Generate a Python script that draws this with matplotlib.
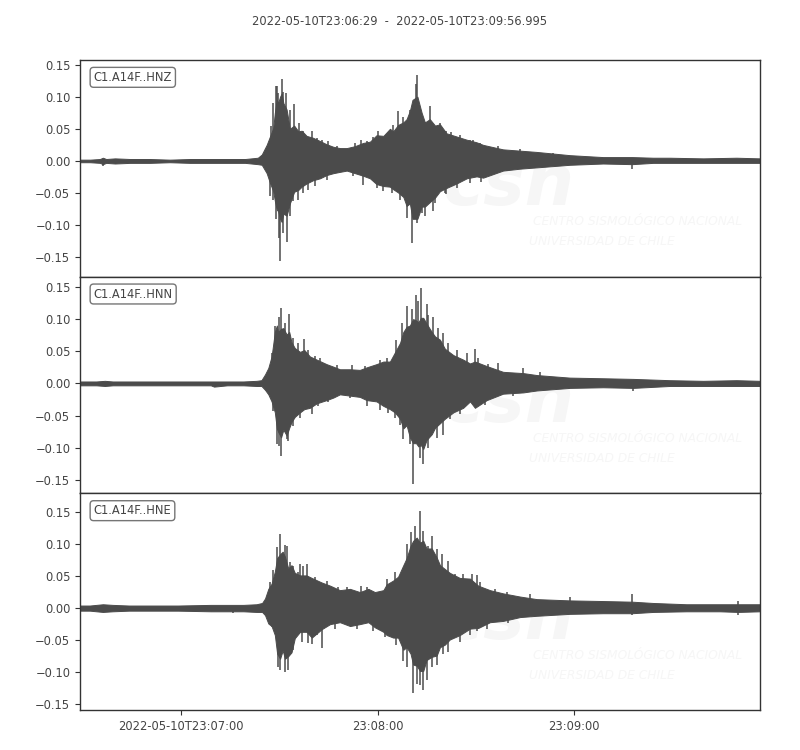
import numpy as np
import matplotlib.pyplot as plt

# seconds after 2022-05-10T23:06:29
title = "2022-05-10T23:06:29  -  2022-05-10T23:09:56.995"
trace_ids = ["C1.A14F..HNZ", "C1.A14F..HNN", "C1.A14F..HNE"]
tick_secs = [31, 91, 151]
tick_labels = ["2022-05-10T23:07:00", "23:08:00", "23:09:00"]
duration = 208.0

# --- HNZ envelope ---
t_z = [0, 3.1, 6.1, 7.0, 8.0, 10.7, 15.3, 21.4, 27.5, 33.6, 39.8, 45.9, 50.5, 54.4, 55.6,
       57.1, 58.1, 59.1, 59.6, 60.2, 60.6, 61.2, 61.7, 62.2, 63.2, 64.2, 65.5, 66.8, 67.8, 69.3,
       71.3, 73.4, 75.4, 77.5, 79.5, 81.6, 84.1, 86.6, 88.7, 90.7, 92.8, 94.8, 95.8, 97.3, 98.9,
       99.9, 100.9, 101.7, 103.2, 104.5, 105.5, 107.0, 108.6, 110.1, 112.1, 115.2, 118.3, 121.3, 123.3, 129.4,
       134.6, 139.7, 149.8, 160.0, 168.9, 175.3, 180.4, 190.6, 200.8, 208.0]
up_z = [0.002, 0.002, 0.003, 0.005, 0.003, 0.004, 0.003, 0.003, 0.002, 0.003, 0.003, 0.003, 0.003, 0.005, 0.010,
        0.025, 0.038, 0.051, 0.075, 0.095, 0.090, 0.100, 0.105, 0.090, 0.080, 0.050, 0.055, 0.046, 0.047, 0.039,
        0.036, 0.031, 0.026, 0.022, 0.020, 0.020, 0.023, 0.028, 0.030, 0.040, 0.039, 0.050, 0.046, 0.056, 0.060,
        0.065, 0.078, 0.095, 0.100, 0.075, 0.060, 0.065, 0.055, 0.057, 0.043, 0.038, 0.033, 0.029, 0.025, 0.018,
        0.016, 0.014, 0.009, 0.006, 0.006, 0.005, 0.005, 0.004, 0.005, 0.004]
lo_z = [-0.002, -0.002, -0.003, -0.005, -0.003, -0.004, -0.003, -0.003, -0.002, -0.003, -0.003, -0.003, -0.003, -0.005, -0.006,
        -0.019, -0.034, -0.047, -0.062, -0.076, -0.078, -0.090, -0.095, -0.082, -0.085, -0.066, -0.048, -0.045, -0.040, -0.035,
        -0.030, -0.027, -0.022, -0.019, -0.017, -0.015, -0.019, -0.023, -0.027, -0.036, -0.039, -0.040, -0.044, -0.049, -0.056,
        -0.070, -0.066, -0.090, -0.090, -0.071, -0.071, -0.064, -0.057, -0.047, -0.042, -0.035, -0.027, -0.024, -0.026, -0.015,
        -0.012, -0.010, -0.006, -0.004, -0.005, -0.003, -0.003, -0.003, -0.003, -0.003]
spk_t_z = [60.3, 61.7, 63.0, 65.5, 97.3, 102.7, 103.2, 107.0,
           58.1, 60.9, 61.2, 63.2, 99.9, 101.7, 104.5, 108.6, 112.1, 168.9, 7.0,
           58.4, 59.1, 60.0, 60.6, 62.2, 64.2, 67.1, 68.2, 70.9, 72.4, 73.9, 75.9, 78.5, 84.1, 86.1,
           87.7, 89.7, 91.2, 93.8, 95.6, 98.9, 100.9, 105.0, 110.1, 112.1, 113.6, 116.2, 119.3,
           120.3, 122.3, 127.9, 134.6, 144.7,
           58.9, 60.0, 62.2, 64.2, 65.2, 66.8, 68.2, 69.8, 71.9, 75.4, 83.6, 86.6, 90.7, 92.8,
           95.3, 97.9, 103.0, 105.5, 108.1, 111.6, 115.2, 119.3, 122.8, 125.4, 130.5]
spk_v_z = [0.116, 0.127, 0.106, 0.088, 0.077, 0.120, 0.134, 0.085,
           -0.055, -0.120, -0.156, -0.126, -0.089, -0.127, -0.081, -0.065, -0.052, -0.012, -0.008,
           0.054, 0.090, 0.116, 0.106, 0.108, 0.080, 0.059, 0.046, 0.046, 0.036, 0.033, 0.031, 0.024, 0.028, 0.033,
           0.031, 0.037, 0.046, 0.041, 0.056, 0.069, 0.080, 0.062, 0.059, 0.046, 0.045, 0.041, 0.033,
           0.033, 0.028, 0.023, 0.019, 0.012,
           -0.060, -0.091, -0.112, -0.086, -0.063, -0.060, -0.050, -0.045, -0.039, -0.029, -0.024, -0.037, -0.042, -0.047,
           -0.050, -0.060, -0.096, -0.086, -0.078, -0.050, -0.042, -0.034, -0.033, -0.021, -0.016]

# --- HNN ---
t_n = [0, 5, 7.6, 10, 20, 30, 40, 41.0, 45, 50, 54, 55.5, 56.6, 57.6, 58.6,
       59.6, 60.2, 60.6, 61.5, 62.2, 63.2, 64.0, 64.7, 65.7, 67.3, 68.6, 70.3, 72.4, 75.4, 77.5,
       79.5, 82.6, 85.6, 87.7, 90.7, 92.8, 94.8, 96.3, 97.9, 98.9, 99.9, 100.9, 101.9, 102.8, 103.5,
       104.3, 105.0, 106.0, 107.6, 108.6, 110.1, 111.6, 114.2, 117.2, 119.3, 120.8, 124.4, 129.4, 135.6, 139.7,
       149.8, 160.0, 169.2, 180.4, 190.6, 200.8, 208.0]
up_n = [0.003, 0.003, 0.004, 0.003, 0.003, 0.003, 0.003, 0.003, 0.003, 0.003, 0.004, 0.005, 0.014, 0.024, 0.042,
        0.080, 0.090, 0.080, 0.085, 0.086, 0.076, 0.080, 0.064, 0.055, 0.049, 0.052, 0.042, 0.037, 0.030, 0.026,
        0.022, 0.022, 0.021, 0.025, 0.030, 0.034, 0.034, 0.048, 0.063, 0.080, 0.088, 0.090, 0.100, 0.098, 0.095,
        0.102, 0.102, 0.093, 0.080, 0.073, 0.068, 0.054, 0.044, 0.037, 0.031, 0.034, 0.027, 0.018, 0.016, 0.013,
        0.009, 0.008, 0.007, 0.005, 0.004, 0.005, 0.004]
lo_n = [-0.003, -0.003, -0.004, -0.003, -0.003, -0.003, -0.003, -0.005, -0.003, -0.003, -0.004, -0.004, -0.010, -0.017, -0.028,
        -0.045, -0.070, -0.075, -0.084, -0.072, -0.081, -0.069, -0.060, -0.052, -0.045, -0.040, -0.038, -0.031, -0.026, -0.022,
        -0.017, -0.019, -0.021, -0.026, -0.028, -0.035, -0.040, -0.045, -0.055, -0.070, -0.065, -0.084, -0.093, -0.093, -0.098,
        -0.096, -0.102, -0.088, -0.079, -0.069, -0.062, -0.055, -0.045, -0.038, -0.028, -0.038, -0.026, -0.016, -0.014, -0.011,
        -0.007, -0.006, -0.007, -0.004, -0.004, -0.004, -0.004]
spk_t_n = [61.5, 64.0, 68.6, 99.9, 102.8, 104.3, 106.0, 120.8,
           60.2, 61.5, 63.2, 87.7, 98.9, 101.9, 105.0, 169.2,
           58.8, 59.6, 60.9, 62.7, 65.2, 66.8, 69.8, 71.9, 73.4, 78.5, 83.1, 87.2, 91.7, 93.8,
           96.8, 98.4, 101.4, 103.5, 106.5, 108.1, 109.6, 111.1, 112.6, 115.2, 118.3,
           121.8, 124.9, 127.9, 135.6, 140.7,
           59.1, 60.9, 63.7, 65.2, 67.3, 70.9, 72.9, 75.9, 82.6, 91.7, 94.3, 96.3, 97.9,
           100.9, 104.0, 106.5, 109.1, 111.1, 113.1, 116.2, 123.9, 132.5]
spk_v_n = [0.117, 0.108, 0.069, 0.120, 0.138, 0.149, 0.123, 0.054,
           -0.095, -0.113, -0.087, -0.035, -0.087, -0.157, -0.126, -0.012,
           0.047, 0.089, 0.103, 0.094, 0.071, 0.063, 0.052, 0.042, 0.040, 0.029, 0.028, 0.027, 0.037, 0.040,
           0.068, 0.094, 0.115, 0.128, 0.107, 0.104, 0.086, 0.078, 0.063, 0.052, 0.047,
           0.040, 0.030, 0.032, 0.024, 0.017,
           -0.043, -0.098, -0.090, -0.067, -0.054, -0.048, -0.035, -0.029, -0.023, -0.041, -0.046, -0.054, -0.064,
           -0.095, -0.116, -0.100, -0.085, -0.080, -0.056, -0.048, -0.033, -0.020]

# --- HNE ---
t_e = [0, 3, 7, 10, 15, 20, 30, 40, 50, 54, 55.7, 56.6, 57.6, 58.6, 59.6,
       60.3, 61.2, 62.0, 62.7, 63.7, 64.7, 65.7, 67.3, 69.3, 70.9, 73.9, 76.5, 79.5, 82.6, 85.6,
       88.2, 90.2, 92.8, 93.8, 95.8, 97.3, 98.9, 99.9, 101.1, 101.9, 103.0, 104.0, 105.0, 106.0, 107.6,
       109.1, 110.1, 111.6, 113.1, 116.2, 119.3, 121.8, 125.4, 129.4, 134.6, 139.7, 149.8, 160.0, 168.9, 175.3,
       185.5, 195.7, 201.3, 208.0]
up_e = [0.004, 0.004, 0.006, 0.005, 0.004, 0.004, 0.004, 0.005, 0.005, 0.006, 0.008, 0.015, 0.030, 0.038, 0.057,
        0.078, 0.084, 0.088, 0.080, 0.062, 0.067, 0.055, 0.051, 0.051, 0.047, 0.040, 0.035, 0.028, 0.030, 0.025,
        0.030, 0.025, 0.028, 0.037, 0.043, 0.049, 0.067, 0.078, 0.097, 0.105, 0.110, 0.102, 0.105, 0.093, 0.093,
        0.079, 0.067, 0.061, 0.055, 0.047, 0.046, 0.035, 0.028, 0.023, 0.018, 0.014, 0.012, 0.011, 0.010, 0.008,
        0.006, 0.006, 0.006, 0.006]
lo_e = [-0.004, -0.004, -0.006, -0.005, -0.004, -0.004, -0.004, -0.005, -0.005, -0.006, -0.006, -0.011, -0.024, -0.028, -0.042,
        -0.071, -0.079, -0.066, -0.079, -0.075, -0.069, -0.047, -0.037, -0.037, -0.046, -0.033, -0.025, -0.022, -0.028, -0.025,
        -0.022, -0.030, -0.037, -0.042, -0.046, -0.046, -0.065, -0.061, -0.071, -0.088, -0.090, -0.098, -0.098, -0.081, -0.076,
        -0.074, -0.061, -0.057, -0.049, -0.042, -0.032, -0.031, -0.022, -0.020, -0.014, -0.012, -0.009, -0.008, -0.008, -0.006,
        -0.005, -0.005, -0.006, -0.005]
spk_t_e = [61.2, 62.7, 67.3, 69.3, 93.8, 101.1, 104.0, 107.6, 109.1, 168.9,
           61.2, 62.7, 70.9, 73.9, 98.9, 101.9, 104.0, 105.0, 109.1, 46.8, 201.3, 168.9,
           58.1, 59.1, 60.4, 63.2, 64.2, 65.2, 66.8, 68.3, 71.9, 72.9, 75.4, 79.0, 81.6, 86.1, 87.7,
           96.3, 99.9, 102.4, 105.0, 106.5, 110.6, 112.6, 114.7, 117.2, 119.8, 121.3,
           122.3, 126.9, 130.5, 137.6, 149.8, 201.3,
           58.6, 60.6, 63.7, 65.2, 67.8, 69.8, 72.4, 78.0, 84.6, 89.7, 93.3, 96.8, 99.9,
           103.0, 106.0, 107.6, 111.1, 112.6, 116.2, 119.3, 121.3, 124.4, 131.0]
spk_v_e = [0.116, 0.099, 0.069, 0.069, 0.046, 0.118, 0.151, 0.113, 0.092, 0.022,
           -0.097, -0.100, -0.056, -0.063, -0.082, -0.132, -0.120, -0.128, -0.089, -0.008, -0.011, -0.011,
           0.040, 0.059, 0.095, 0.097, 0.072, 0.066, 0.056, 0.066, 0.048, 0.038, 0.042, 0.033, 0.033, 0.035, 0.033,
           0.056, 0.100, 0.128, 0.121, 0.097, 0.084, 0.074, 0.053, 0.053, 0.053, 0.051,
           0.040, 0.030, 0.025, 0.022, 0.017, 0.011,
           -0.030, -0.092, -0.097, -0.066, -0.053, -0.055, -0.042, -0.032, -0.032, -0.035, -0.045, -0.058, -0.092,
           -0.118, -0.112, -0.092, -0.071, -0.068, -0.053, -0.042, -0.035, -0.032, -0.024]

ylims = [(-0.180, 0.157), (-0.171, 0.166), (-0.159, 0.179)]

traces = [(t_z, up_z, lo_z, spk_t_z, spk_v_z),
          (t_n, up_n, lo_n, spk_t_n, spk_v_n),
          (t_e, up_e, lo_e, spk_t_e, spk_v_e)]

FS = 8.3
WAVE = '#4b4b4b'
TXT = '#444444'
WM = '#f6f6f6'

fig, axes = plt.subplots(3, 1, figsize=(8, 7.5), dpi=100, sharex=True)
fig.subplots_adjust(left=0.1, right=0.95, top=0.92, bottom=0.0533, hspace=0)

for i, ax in enumerate(axes):
    t, up, lo, st, sv = traces[i]
    # faint CSN watermark
    ax.text(0.63, 0.42, "csn", transform=ax.transAxes, fontsize=50, fontweight='bold',
            style='italic', color=WM, ha='center', va='center', zorder=0, clip_on=True)
    ax.text(0.666, 0.253, "CENTRO SISMOLÓGICO NACIONAL", transform=ax.transAxes, fontsize=8.8,
            style='italic', color=WM, ha='left', va='center', zorder=0, clip_on=True)
    ax.text(0.66, 0.161, "UNIVERSIDAD DE CHILE", transform=ax.transAxes, fontsize=8.8,
            style='italic', color=WM, ha='left', va='center', zorder=0, clip_on=True)

    ax.fill_between(t, lo, up, color=WAVE, lw=0.7, edgecolor=WAVE, zorder=2)
    ax.vlines(st, 0, sv, color=WAVE, lw=1.1, zorder=2)

    ax.set_xlim(0, duration)
    ax.set_ylim(*ylims[i])
    ax.set_yticks([-0.15, -0.10, -0.05, 0.0, 0.05, 0.10, 0.15])
    ax.set_yticklabels(["\u22120.15", "\u22120.10", "\u22120.05", "0.00", "0.05", "0.10", "0.15"])
    ax.tick_params(axis='y', labelsize=FS, colors=TXT, color='#333333')
    ax.tick_params(axis='x', labelsize=FS, colors=TXT, color='#333333')
    for sp in ax.spines.values():
        sp.set_color('#333333')
        sp.set_linewidth(1.0)
    ax.text(0.02, 0.95, trace_ids[i], transform=ax.transAxes, fontsize=FS, color=TXT,
            ha='left', va='top', zorder=5,
            bbox=dict(boxstyle='round', fc='w', ec='#666666', alpha=0.9))
    if i < 2:
        ax.tick_params(axis='x', bottom=False, labelbottom=False)

axes[2].set_xticks(tick_secs)
axes[2].set_xticklabels(tick_labels)
fig.suptitle(title, fontsize=FS, color=TXT, y=0.98)

plt.savefig("out.png", dpi=100)
